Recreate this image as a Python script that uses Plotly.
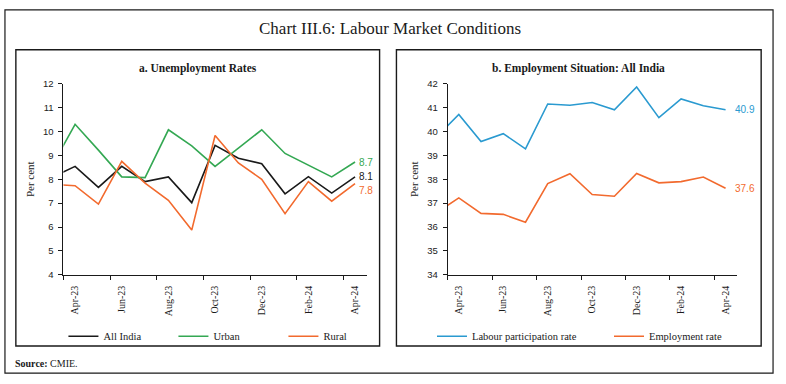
import plotly.graph_objects as go

# ---------------- data ----------------
months = ["Mar-23", "Apr-23", "May-23", "Jun-23", "Jul-23", "Aug-23", "Sep-23",
          "Oct-23", "Nov-23", "Dec-23", "Jan-24", "Feb-24", "Mar-24", "Apr-24"]
tick_labels = ["Apr-23", "Jun-23", "Aug-23", "Oct-23", "Dec-23", "Feb-24", "Apr-24"]

all_india = [8.08, 8.54, 7.66, 8.54, 7.90, 8.10, 7.02, 9.42, 8.88, 8.65, 7.39, 8.11, 7.42, 8.10]
urban = [8.54, 10.30, 9.22, 8.10, 8.07, 10.07, 9.40, 8.54, 9.30, 10.07, 9.08, 8.58, 8.10, 8.72]
rural = [7.79, 7.73, 6.96, 8.75, 7.84, 7.12, 5.87, 9.83, 8.68, 8.00, 6.56, 7.90, 7.08, 7.82]

labour_participation = [39.77, 40.71, 39.58, 39.91, 39.27, 41.15, 41.10, 41.21, 40.91,
                        41.86, 40.58, 41.36, 41.08, 40.91]
employment_rate = [36.60, 37.22, 36.57, 36.53, 36.20, 37.82, 38.23, 37.36, 37.29,
                   38.24, 37.85, 37.90, 38.09, 37.62]

# ---------------- style ----------------
W, H = 786, 384
SERIF = "Liberation Serif"
SANS = "Liberation Sans"
BLACK = "#1a1a1a"
GREEN = "#34a853"
ORANGE = "#f26a2e"
BLUE = "#2a9ad0"

xs = list(range(len(months)))
tick_pos = [months.index(m) for m in tick_labels]
minor_pos = [p - 0.5 for p in tick_pos]

def px(x):
    return x / W

def py(y):
    return 1 - y / H

fig = go.Figure()

left_series = [("All India", all_india, BLACK), ("Urban", urban, GREEN), ("Rural", rural, ORANGE)]
for name, vals, col in left_series:
    fig.add_trace(go.Scatter(x=xs, y=vals, name=name, mode="lines",
                             line=dict(color=col, width=1.6),
                             xaxis="x", yaxis="y", legend="legend"))

right_series = [("Labour participation rate", labour_participation, BLUE),
                ("Employment rate", employment_rate, ORANGE)]
for name, vals, col in right_series:
    fig.add_trace(go.Scatter(x=xs, y=vals, name=name, mode="lines",
                             line=dict(color=col, width=1.6),
                             xaxis="x2", yaxis="y2", legend="legend2"))

def xaxis_cfg(domain):
    return dict(domain=domain, range=[0.5, 13.5], showgrid=False, zeroline=False,
                showline=True, linecolor=BLACK, linewidth=1,
                tickmode="array", tickvals=tick_pos, ticktext=tick_labels,
                ticks="", tickangle=-90, ticklabelstandoff=6,
                tickfont=dict(family=SERIF, size=10, color=BLACK),
                minor=dict(tickmode="array", tickvals=minor_pos, ticks="outside",
                           ticklen=4, tickcolor=BLACK, showgrid=False),
                fixedrange=True)

def yaxis_cfg(domain, rng, anchor):
    return dict(domain=domain, range=rng, dtick=1, showgrid=False, zeroline=False,
                showline=True, linecolor=BLACK, linewidth=1, anchor=anchor,
                ticks="outside", ticklen=4, tickcolor=BLACK, ticklabelstandoff=3,
                tickfont=dict(family=SANS, size=9.5, color="#222"),
                title=dict(text="Per cent", font=dict(family=SERIF, size=11, color=BLACK),
                           standoff=6),
                fixedrange=True)

ydom = [py(276.7), py(80)]
fig.update_layout(
    width=W, height=H, margin=dict(l=0, r=0, t=0, b=0),
    paper_bgcolor="white", plot_bgcolor="white",
    xaxis=xaxis_cfg([px(64), px(370)]) | dict(anchor="y"),
    yaxis=yaxis_cfg(ydom, [4, 12], "x"),
    xaxis2=xaxis_cfg([px(451.7), px(743.3)]) | dict(anchor="y2"),
    yaxis2=yaxis_cfg(ydom, [34, 42], "x2"),
    legend=dict(orientation="h", x=px(64), xanchor="left", y=py(340), yanchor="middle",
                font=dict(family=SERIF, size=10.5, color=BLACK), bgcolor="rgba(0,0,0,0)",
                entrywidth=65, entrywidthmode="pixels", itemwidth=30),
    legend2=dict(orientation="h", x=px(436), xanchor="left", y=py(340), yanchor="middle",
                 font=dict(family=SERIF, size=10.5, color=BLACK), bgcolor="rgba(0,0,0,0)",
                 entrywidth=132, entrywidthmode="pixels", itemwidth=30),
    showlegend=True,
)

shapes = [
    dict(type="rect", xref="paper", yref="paper", x0=px(5), x1=px(780), y0=py(378), y1=py(4),
         line=dict(color=BLACK, width=1.2)),
    dict(type="rect", xref="paper", yref="paper", x0=px(16), x1=px(383), y0=py(350), y1=py(45),
         line=dict(color=BLACK, width=1.4)),
    dict(type="rect", xref="paper", yref="paper", x0=px(400), x1=px(768), y0=py(350), y1=py(45),
         line=dict(color=BLACK, width=1.4)),
]
fig.update_layout(shapes=shapes)

ann = [
    dict(text="Chart III.6: Labour Market Conditions", x=0.5, y=py(23), xref="paper", yref="paper",
         showarrow=False, xanchor="center", yanchor="middle",
         font=dict(family=SERIF, size=17, color=BLACK)),
    dict(text="<b>a. Unemployment Rates</b>", x=px(200), y=py(64), xref="paper", yref="paper",
         showarrow=False, xanchor="center", yanchor="middle",
         font=dict(family=SERIF, size=11.5, color=BLACK)),
    dict(text="<b>b. Employment Situation: All India</b>", x=px(584), y=py(64), xref="paper",
         yref="paper", showarrow=False, xanchor="center", yanchor="middle",
         font=dict(family=SERIF, size=11.5, color=BLACK)),
    dict(text="<b>Source:</b> CMIE.", x=px(13), y=py(368), xref="paper", yref="paper",
         showarrow=False, xanchor="left", yanchor="middle",
         font=dict(family=SERIF, size=10, color=BLACK)),
]

# end-of-line value labels
end_specs = [("x", "y", urban, GREEN, 0), ("x", "y", all_india, BLACK, 0), ("x", "y", rural, ORANGE, -7),
             ("x2", "y2", labour_participation, BLUE, 0), ("x2", "y2", employment_rate, ORANGE, 0)]
for xr, yr, vals, col, ysh in end_specs:
    ann.append(dict(text=f"{vals[-1]:.1f}", x=xs[-1], y=vals[-1], xref=xr, yref=yr,
                    showarrow=False, xanchor="left", yanchor="middle",
                    xshift=2 if xr == "x" else 7, yshift=ysh,
                    font=dict(family=SANS, size=10, color=col)))
fig.update_layout(annotations=ann)

fig.write_html("out.html", config={"displayModeBar": False},
               post_script="document.body.style.margin='0';")
